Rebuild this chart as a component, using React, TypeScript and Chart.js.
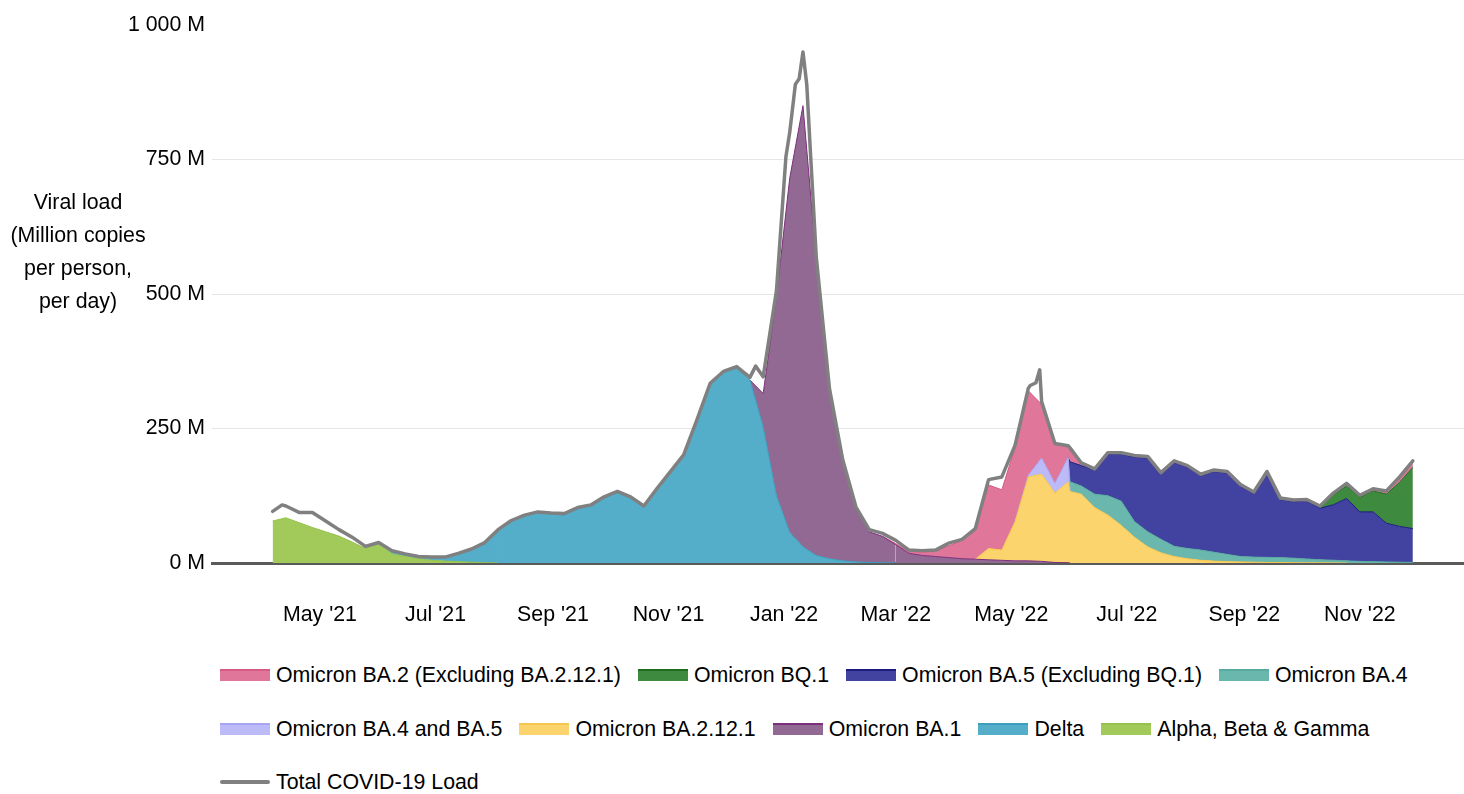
import React, { useEffect, useRef } from 'react';
import { Chart, registerables } from 'chart.js';

Chart.register(...registerables);

const FONT = "'Liberation Sans', Arial, Helvetica, sans-serif";
const FONT_SIZE = 21.33;

// x positions: days counted from 1 Jan 2021; one sample per week starting 5 Apr 2021,
// plus one extra sample (day 516) where BA.4/BA.5 split
const FIRST_DAY = 95;
const WEEK = 7;
const WEEKLY_DAYS = Array.from({ length: 87 }, (_, i) => FIRST_DAY + i * WEEK);
const SPLIT_DAY = 516;
const SAMPLE_DAYS = [...WEEKLY_DAYS.slice(0, 61), SPLIT_DAY, ...WEEKLY_DAYS.slice(61)];

const TICK_DAYS = [120, 181, 243, 304, 365, 424, 485, 546, 608, 669];
const TICK_LABELS = ["May '21", "Jul '21", "Sep '21", "Nov '21", "Jan '22", "Mar '22", "May '22", "Jul '22", "Sep '22", "Nov '22"];
const Y_TICKS = [0, 250, 500, 750, 1000];
const Y_TICK_LABELS = ['0 M', '250 M', '500 M', '750 M', '1 000 M'];

// values in million copies per person per day (one per SAMPLE_DAYS entry)
const ALPHA = [
  78, 84, 75, 66, 58, 50, 39, 27, 36, 17,
  12, 8, 5, 3.5, 2.5, 1.5, 0.5, 0, 0, 0,
  0, 0, 0, 0, 0, 0, 0, 0, 0, 0,
  0, 0, 0, 0, 0, 0, 0, 0, 0, 0,
  0, 0, 0, 0, 0, 0, 0, 0, 0, 0,
  0, 0, 0, 0, 0, 0, 0, 0, 0, 0,
  0, 0, 0, 0, 0, 0, 0, 0, 0, 0, 0,
  0, 0, 0, 0, 0, 0, 0, 0, 0, 0,
  0, 0, 0, 0, 0, 0, 0,
];
const DELTA = [
  0, 0, 0, 0, 0, 0, 0, 0, 0.5, 3,
  4, 4, 5.5, 7, 15, 24, 37, 61, 78, 88,
  94, 91, 89, 101, 106, 121, 131, 121, 105, 137,
  168, 199, 264, 332, 354, 362, 340, 253, 125, 57,
  30, 14, 8, 4, 2, 1, 0.5, 0, 0, 0,
  0, 0, 0, 0, 0, 0, 0, 0, 0, 0,
  0, 0, 0, 0, 0, 0, 0, 0, 0, 0, 0,
  0, 0, 0, 0, 0, 0, 0, 0, 0, 0,
  0, 0, 0, 0, 0, 0, 0,
];
const BA1 = [
  0, 0, 0, 0, 0, 0, 0, 0, 0, 0,
  0, 0, 0, 0, 0, 0, 0, 0, 0, 0,
  0, 0, 0, 0, 0, 0, 0, 0, 0, 0,
  0, 0, 0, 0, 0, 0, 0, 62, 370, 658,
  820, 551, 312, 184, 98, 57, 49, 34, 18, 14,
  12, 10, 8, 7, 6, 5, 4, 4, 3, 1,
  0.5, 0, 0, 0, 0, 0, 0, 0, 0, 0, 0,
  0, 0, 0, 0, 0, 0, 0, 0, 0, 0,
  0, 0, 0, 0, 0, 0, 0,
];
const BA2121 = [
  0, 0, 0, 0, 0, 0, 0, 0, 0, 0,
  0, 0, 0, 0, 0, 0, 0, 0, 0, 0,
  0, 0, 0, 0, 0, 0, 0, 0, 0, 0,
  0, 0, 0, 0, 0, 0, 0, 0, 0, 0,
  0, 0, 0, 0, 0, 0, 0, 0, 0, 0,
  0, 0, 0, 0, 21, 19, 73, 156, 162, 129,
  150, 133, 128, 103, 89, 70, 48, 30, 19, 12, 8,
  5, 3.5, 2.5, 2, 1.5, 1, 1, 0.5, 0.5, 0.3,
  0.2, 0, 0, 0, 0, 0, 0,
];
const BA45 = [
  0, 0, 0, 0, 0, 0, 0, 0, 0, 0,
  0, 0, 0, 0, 0, 0, 0, 0, 0, 0,
  0, 0, 0, 0, 0, 0, 0, 0, 0, 0,
  0, 0, 0, 0, 0, 0, 0, 0, 0, 0,
  0, 0, 0, 0, 0, 0, 0, 0, 0, 0,
  0, 0, 0, 0, 0, 0, 0, 3, 30, 18,
  45, 0, 0, 0, 0, 0, 0, 0, 0, 0, 0,
  0, 0, 0, 0, 0, 0, 0, 0, 0, 0,
  0, 0, 0, 0, 0, 0, 0,
];
const BA4 = [
  0, 0, 0, 0, 0, 0, 0, 0, 0, 0,
  0, 0, 0, 0, 0, 0, 0, 0, 0, 0,
  0, 0, 0, 0, 0, 0, 0, 0, 0, 0,
  0, 0, 0, 0, 0, 0, 0, 0, 0, 0,
  0, 0, 0, 0, 0, 0, 0, 0, 0, 0,
  0, 0, 0, 0, 0, 0, 0, 0, 0, 0,
  0, 18, 15, 25, 36, 45, 29, 28, 25, 19, 19,
  19, 16.5, 13.5, 10, 9.5, 9.5, 9, 8.5, 7, 5.7,
  5, 4, 3, 2.5, 2, 1.5, 1,
];
const BA5 = [
  0, 0, 0, 0, 0, 0, 0, 0, 0, 0,
  0, 0, 0, 0, 0, 0, 0, 0, 0, 0,
  0, 0, 0, 0, 0, 0, 0, 0, 0, 0,
  0, 0, 0, 0, 0, 0, 0, 0, 0, 0,
  0, 0, 0, 0, 0, 0, 0, 0, 0, 0,
  0, 0, 0, 0, 0, 0, 0, 0, 0, 0,
  0, 37, 38, 45, 77, 87, 120, 137, 121, 156, 151,
  138, 150, 151, 131, 118, 156.5, 108, 105, 107.5, 96,
  103, 116, 92, 92.5, 72, 66.5, 63,
];
const BQ1 = [
  0, 0, 0, 0, 0, 0, 0, 0, 0, 0,
  0, 0, 0, 0, 0, 0, 0, 0, 0, 0,
  0, 0, 0, 0, 0, 0, 0, 0, 0, 0,
  0, 0, 0, 0, 0, 0, 0, 0, 0, 0,
  0, 0, 0, 0, 0, 0, 0, 0, 0, 0,
  0, 0, 0, 0, 0, 0, 0, 0, 0, 0,
  0, 0, 0, 0, 0, 0, 0, 0, 0, 0, 0,
  0, 0, 0, 0, 0, 0, 0, 0, 0, 1,
  18, 23, 27, 39, 54, 82, 114,
];
const BA2 = [
  0, 0, 0, 0, 0, 0, 0, 0, 0, 0,
  0, 0, 0, 0, 0, 0, 0, 0, 0, 0,
  0, 0, 0, 0, 0, 0, 0, 0, 0, 0,
  0, 0, 0, 0, 0, 0, 0, 0, 0, 0,
  0, 0, 0, 0, 0, 0, 0, 2, 4, 6,
  10, 22, 34, 53, 118, 112, 138, 157, 100, 72,
  22, 20, 5, 2, 3, 3, 3, 3, 3, 3, 3,
  3, 3, 3, 3, 3, 3, 3, 3, 3, 3,
  4, 4, 4, 4, 6, 10, 12,
];
const TOTAL = [
  96, 106, 94, 94, 78, 62, 48, 31, 38, 23,
  17, 12, 11, 11, 18, 26, 38, 62, 79, 89,
  95, 93, 92, 103, 108, 123, 133, 123, 106, 139,
  170, 201, 266, 334, 356, 365, 345, 346, 506, 800,
  950, 570, 324, 192, 104, 62, 55, 42, 24, 23,
  24, 37, 44, 64, 155, 160, 219, 325, 300, 222,
  218, 214, 186, 175, 205, 205, 200, 198, 168, 190, 181,
  165, 173, 170, 146, 132, 170, 121, 117, 118, 106,
  130, 148, 126, 138, 134, 160, 190,
];
// extra total-load readings between samples (peaks)
const TOTAL_EXTRA_DAYS = [100, 350, 366, 371, 373, 377, 379, 495, 498, 500];
const TOTAL_EXTRA_VALUES = [108, 366, 755, 890, 900, 890, 760, 330, 335, 359];

type Series = { label: string; values: number[]; fill: string; line: string };

// bottom of the stack first
const AREA_SERIES: Series[] = [
  { label: 'Alpha, Beta & Gamma', values: ALPHA, fill: '#a2ca5a', line: '#96c24c' },
  { label: 'Delta', values: DELTA, fill: '#55aec9', line: '#3c9dbd' },
  { label: 'Omicron BA.1', values: BA1, fill: '#916993', line: '#7c2f7c' },
  { label: 'Omicron BA.2.12.1', values: BA2121, fill: '#fbd46d', line: '#f7c64f' },
  { label: 'Omicron BA.4 and BA.5', values: BA45, fill: '#bcbaf7', line: '#a9a5f2' },
  { label: 'Omicron BA.4', values: BA4, fill: '#6ab8ad', line: '#57aa9e' },
  { label: 'Omicron BA.5 (Excluding BQ.1)', values: BA5, fill: '#4242a0', line: '#1b1b80' },
  { label: 'Omicron BQ.1', values: BQ1, fill: '#3e8a3e', line: '#1f6b1f' },
  { label: 'Omicron BA.2 (Excluding BA.2.12.1)', values: BA2, fill: '#e0779a', line: '#d65a84' },
];

const TOTAL_LABEL = 'Total COVID-19 Load';
const TOTAL_COLOR = '#808080';

const LEGEND_ROWS: string[][] = [
  ['Omicron BA.2 (Excluding BA.2.12.1)', 'Omicron BQ.1', 'Omicron BA.5 (Excluding BQ.1)', 'Omicron BA.4'],
  ['Omicron BA.4 and BA.5', 'Omicron BA.2.12.1', 'Omicron BA.1', 'Delta', 'Alpha, Beta & Gamma'],
  [TOTAL_LABEL],
];
const LEGEND_ROW_CENTERS = [675, 729, 782];

const CANVAS_W = 1464;
const CANVAS_H = 650;

export default function App() {
  const ref = useRef<HTMLCanvasElement>(null);

  useEffect(() => {
    const canvas = ref.current;
    if (!canvas) return;

    const totalPoints = [
      ...SAMPLE_DAYS.map((d, i) => ({ x: d, y: TOTAL[i] })),
      ...TOTAL_EXTRA_DAYS.map((d, i) => ({ x: d, y: TOTAL_EXTRA_VALUES[i] })),
    ].sort((a, b) => a.x - b.x);

    const datasets: any[] = [
      {
        label: TOTAL_LABEL,
        data: totalPoints,
        borderColor: TOTAL_COLOR,
        borderWidth: 3.5,
        borderJoinStyle: 'round',
        borderCapStyle: 'round',
        fill: false,
        stack: 'total',
        pointRadius: 0,
        tension: 0,
      },
      ...AREA_SERIES.map((s, idx) => ({
        label: s.label,
        data: SAMPLE_DAYS.map((d, i) => ({ x: d, y: s.values[i] })),
        backgroundColor: s.fill,
        borderColor: s.line,
        borderWidth: 1,
        fill: idx === 0 ? 'origin' : '-1',
        stack: 'areas',
        pointRadius: 0,
        tension: 0,
        segment: {
          borderColor: (c: any) =>
            s.values[c.p0DataIndex] === 0 && s.values[c.p1DataIndex] === 0 ? 'rgba(0,0,0,0)' : undefined,
        },
      })),
    ];

    const chart = new Chart(canvas, {
      type: 'line',
      data: { datasets },
      options: {
        responsive: false,
        animation: false,
        events: [],
        layout: { padding: { top: 25, left: 0, right: 0, bottom: 0 } },
        plugins: {
          legend: { display: false },
          tooltip: { enabled: false },
        },
        scales: {
          x: {
            type: 'linear',
            min: 63,
            max: 724,
            afterBuildTicks: (s: any) => {
              s.ticks = TICK_DAYS.map((v) => ({ value: v }));
            },
            afterFit: (s: any) => {
              s.height = CANVAS_H - 563;
            },
            grid: { display: false, drawTicks: false },
            border: { display: true, color: '#5a5a5a', width: 3 },
            ticks: {
              autoSkip: false,
              maxRotation: 0,
              minRotation: 0,
              padding: 39,
              color: '#000',
              font: { size: FONT_SIZE, family: FONT },
              callback: (v: any) => {
                const i = TICK_DAYS.indexOf(Number(v));
                return i >= 0 ? TICK_LABELS[i] : '';
              },
            },
          },
          y: {
            stacked: true,
            min: 0,
            max: 1000,
            afterFit: (s: any) => {
              s.width = 212;
            },
            border: { display: false },
            grid: {
              drawTicks: false,
              lineWidth: 1,
              color: (ctx: any) =>
                ctx.tick && ctx.tick.value > 0 && ctx.tick.value < 1000 ? '#e6e6e6' : 'rgba(0,0,0,0)',
            },
            ticks: {
              stepSize: 250,
              padding: 7,
              color: '#000',
              font: { size: FONT_SIZE, family: FONT },
              callback: (v: any) => {
                const i = Y_TICKS.indexOf(Number(v));
                return i >= 0 ? Y_TICK_LABELS[i] : '';
              },
            },
          },
        },
      },
    });

    return () => chart.destroy();
  }, []);

  const styleFor = (label: string) => {
    if (label === TOTAL_LABEL) return { fill: 'transparent', line: TOTAL_COLOR, isLine: true };
    const s = AREA_SERIES.find((x) => x.label === label)!;
    return { fill: s.fill, line: s.line, isLine: false };
  };

  return (
    <div
      style={{
        position: 'absolute',
        left: 0,
        top: 0,
        width: CANVAS_W,
        height: 794,
        background: '#fff',
        fontFamily: FONT,
        overflow: 'hidden',
      }}
    >
      <canvas
        ref={ref}
        width={CANVAS_W}
        height={CANVAS_H}
        style={{ position: 'absolute', left: 0, top: 0, width: CANVAS_W, height: CANVAS_H }}
      />
      <div
        style={{
          position: 'absolute',
          left: 0,
          top: 186,
          width: 156,
          textAlign: 'center',
          fontSize: FONT_SIZE,
          lineHeight: '33px',
          color: '#000',
        }}
      >
        <div>Viral load</div>
        <div>(Million copies</div>
        <div>per person,</div>
        <div>per day)</div>
      </div>
      {LEGEND_ROWS.map((row, r) => (
        <div
          key={r}
          style={{
            position: 'absolute',
            left: 220,
            top: LEGEND_ROW_CENTERS[r] - 12,
            height: 24,
            display: 'flex',
            alignItems: 'center',
            whiteSpace: 'nowrap',
          }}
        >
          {row.map((label) => {
            const st = styleFor(label);
            return (
              <div key={label} style={{ display: 'flex', alignItems: 'center', marginRight: 17 }}>
                {st.isLine ? (
                  <div style={{ width: 50, height: 4, background: st.line, borderRadius: 2 }} />
                ) : (
                  <div
                    style={{
                      width: 50,
                      height: 12,
                      boxSizing: 'border-box',
                      background: st.fill,
                      borderTop: `2px solid ${st.line}`,
                    }}
                  />
                )}
                <span style={{ marginLeft: 6, fontSize: FONT_SIZE, color: '#000' }}>{label}</span>
              </div>
            );
          })}
        </div>
      ))}
    </div>
  );
}
